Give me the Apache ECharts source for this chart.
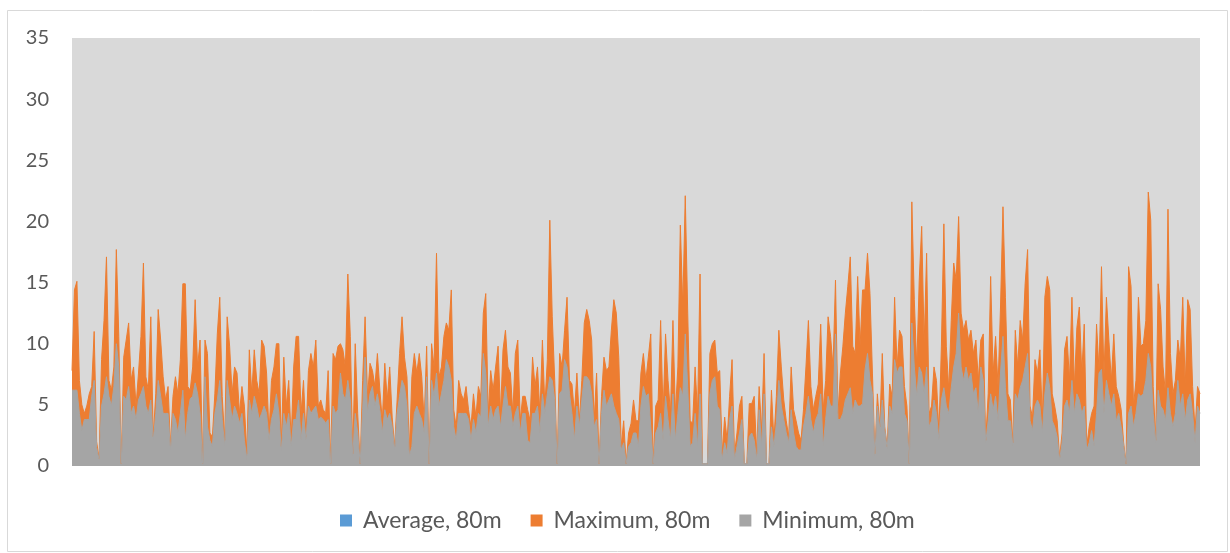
<!DOCTYPE html>
<html>
<head>
<meta charset="utf-8">
<script src="https://cdn.jsdelivr.net/npm/echarts@6/dist/echarts.min.js"></script>
<style>
  html, body { margin: 0; padding: 0; background: #ffffff; }
  #chart { width: 1230px; height: 553px; }
</style>
</head>
<body>
<div id="chart"></div>
<script>
// Wind speed at 80 m: per-interval maximum and minimum (m/s)
const seriesNames = ['Average, 80m', 'Maximum, 80m', 'Minimum, 80m'];
const yTicks = [0, 5, 10, 15, 20, 25, 30, 35];

const maxima = [
  7.8, 14.4, 15.1, 7.0, 5.0, 4.3, 4.9, 5.9, 6.5, 11.0, 2.0, 0.6, 8.7, 11.9, 17.1, 7.0, 6.2, 8.1, 17.7, 10.6, 0.2, 8.9, 10.3, 11.7, 7.0, 8.1, 4.9, 7.6, 10.6, 16.6, 7.3, 6.2, 12.2, 2.4, 5.9, 12.8, 10.3, 7.3, 5.4, 6.5, 1.6, 5.7, 7.3, 5.9, 8.7, 14.9,
  14.9, 6.5, 6.2, 8.1, 13.6, 8.1, 10.3, 0.2, 10.3, 9.2, 2.7, 2.4, 5.9, 10.8, 13.8, 5.7, 2.1, 12.2, 9.8, 5.9, 8.1, 7.6, 4.3, 6.5, 4.9, 1.0, 9.5, 5.9, 9.5, 7.0, 5.9, 10.3, 9.8, 7.6, 2.7, 7.0, 8.1, 10.0, 10.0, 1.6, 8.9, 4.9, 7.0, 2.1, 8.1, 10.6,
  10.6, 4.3, 7.0, 2.4, 7.8, 9.2, 8.1, 10.3, 4.9, 5.4, 4.6, 4.3, 7.8, 0.2, 9.2, 8.7, 9.8, 10.0, 9.5, 8.1, 15.7, 10.6, 1.0, 10.0, 4.3, 0.2, 7.0, 12.2, 5.7, 8.4, 7.8, 6.5, 9.2, 6.2, 3.7, 8.4, 5.4, 8.1, 4.0, 1.6, 5.4, 9.2, 12.2, 8.9, 7.3, 1.3,
  7.3, 9.2, 7.6, 9.2, 7.3, 3.7, 9.8, 0.2, 10.0, 8.1, 17.4, 7.3, 8.1, 10.6, 11.7, 11.1, 14.4, 4.6, 3.2, 7.0, 5.9, 5.4, 6.5, 4.6, 3.2, 5.9, 4.0, 6.5, 5.7, 12.5, 14.1, 4.3, 7.8, 6.2, 8.1, 9.8, 4.3, 9.5, 11.1, 8.1, 7.6, 4.3, 9.2, 10.3, 3.7, 5.7,
  5.7, 4.6, 3.7, 8.9, 6.5, 8.1, 4.3, 10.3, 4.9, 8.7, 20.1, 12.2, 7.0, 0.2, 9.2, 8.1, 11.1, 13.8, 7.0, 6.7, 4.3, 7.6, 3.7, 7.0, 11.7, 12.8, 11.9, 10.3, 3.7, 7.6, 0.2, 5.7, 8.9, 7.8, 8.1, 11.1, 13.6, 12.5, 8.9, 1.6, 3.7, 0.2, 2.7, 3.5, 5.4, 3.7,
  3.7, 7.6, 9.2, 7.0, 8.9, 10.8, 0.2, 4.9, 5.4, 11.9, 4.3, 10.8, 7.0, 4.3, 11.9, 4.3, 8.1, 19.7, 13.0, 22.1, 12.5, 3.7, 3.5, 8.1, 4.3, 15.7, 0.2, 0.2, 0.2, 9.2, 10.0, 10.3, 7.6, 7.8, 1.0, 4.0, 2.1, 5.7, 8.7, 1.0, 2.7, 4.9, 5.7, 0.2, 0.2, 5.1,
  5.1, 5.7, 1.0, 6.5, 2.9, 9.2, 0.2, 0.2, 6.2, 2.1, 5.7, 11.1, 8.1, 5.4, 3.7, 2.4, 8.1, 4.6, 3.7, 2.7, 2.1, 4.6, 8.1, 11.9, 6.5, 4.6, 5.7, 6.7, 11.6, 4.6, 7.0, 12.2, 10.6, 8.1, 15.2, 4.3, 7.6, 9.8, 12.5, 14.7, 17.1, 9.8, 9.2, 15.5, 9.8, 14.4,
  14.4, 17.4, 14.1, 7.6, 1.0, 5.9, 3.2, 9.2, 3.2, 1.6, 6.7, 5.7, 13.8, 8.1, 11.1, 10.6, 6.5, 4.9, 0.2, 21.6, 13.6, 8.1, 15.2, 19.6, 10.0, 17.4, 4.3, 4.9, 8.1, 7.0, 2.7, 9.8, 19.8, 9.8, 6.2, 11.9, 16.6, 15.2, 20.4, 12.5, 11.1, 11.9, 10.3, 11.1, 9.2, 10.3,
  7.0, 10.3, 10.8, 2.1, 5.9, 15.5, 7.6, 10.6, 6.5, 13.0, 21.2, 13.8, 5.9, 5.4, 1.9, 11.1, 8.1, 11.9, 10.3, 14.9, 17.7, 4.9, 4.0, 8.7, 7.6, 9.5, 3.7, 13.8, 15.5, 14.4, 5.9, 4.9, 3.7, 0.7, 2.7, 9.5, 10.6, 7.0, 13.8, 6.5, 11.3, 13.0, 7.6, 11.6, 1.6, 3.2,
  4.3, 4.9, 11.6, 7.8, 16.3, 7.3, 13.8, 10.3, 7.0, 10.8, 6.5, 5.7, 4.6, 1.9, 0.2, 16.3, 14.7, 4.9, 7.0, 13.8, 9.8, 10.0, 11.9, 22.4, 20.1, 6.5, 2.1, 14.9, 12.8, 8.1, 5.9, 21.0, 9.2, 5.9, 7.0, 10.3, 8.7, 13.8, 6.5, 13.6, 12.8, 6.5, 2.9, 6.5, 5.9
];

const minima = [
  6.2, 6.2, 6.2, 4.3, 2.9, 3.8, 3.8, 3.8, 5.7, 7.0, 1.5, 0.5, 4.9, 5.9, 7.3, 5.7, 4.9, 6.5, 10.0, 8.1, 0.2, 5.7, 5.4, 6.5, 4.3, 4.9, 3.8, 5.4, 5.9, 6.5, 4.9, 4.3, 5.4, 2.1, 4.3, 7.0, 5.7, 4.3, 4.3, 4.3, 1.3, 4.3, 3.8, 2.7, 4.3, 6.2,
  2.1, 4.3, 5.5, 5.7, 6.8, 5.9, 4.3, 0.2, 7.3, 3.2, 2.1, 1.6, 4.3, 5.4, 7.0, 3.8, 1.6, 7.0, 5.4, 3.8, 4.9, 4.3, 3.5, 4.3, 2.1, 0.5, 5.4, 4.3, 5.7, 4.9, 3.8, 4.3, 4.9, 4.3, 2.1, 3.8, 4.6, 5.9, 4.3, 1.2, 4.3, 3.2, 4.3, 1.6, 3.8, 3.8,
  5.4, 2.1, 4.3, 2.1, 4.9, 4.3, 4.6, 4.9, 3.8, 4.0, 3.8, 3.5, 3.8, 0.2, 4.9, 4.3, 4.6, 7.6, 5.9, 5.4, 7.0, 5.4, 0.8, 4.3, 2.7, 0.2, 4.6, 8.9, 4.3, 5.9, 6.5, 4.9, 5.9, 4.6, 2.7, 4.6, 3.8, 4.3, 3.2, 1.3, 4.3, 5.7, 7.0, 6.5, 4.9, 0.8,
  1.6, 4.3, 4.9, 4.3, 3.8, 2.7, 7.3, 0.2, 7.0, 5.7, 7.6, 4.9, 5.9, 7.0, 8.7, 8.1, 7.0, 3.2, 2.1, 4.3, 4.3, 4.3, 4.3, 3.8, 2.1, 3.8, 2.7, 4.3, 4.0, 9.2, 7.6, 3.2, 4.9, 3.8, 4.6, 4.9, 3.2, 4.9, 6.5, 4.9, 4.9, 3.2, 4.3, 4.9, 2.7, 4.3,
  4.3, 2.1, 1.9, 4.3, 4.3, 4.9, 2.7, 5.9, 4.3, 5.9, 7.3, 7.0, 5.4, 0.2, 5.9, 6.2, 8.7, 8.1, 5.9, 4.3, 2.1, 4.9, 3.2, 5.4, 7.3, 7.3, 7.0, 5.9, 3.2, 3.8, 0.2, 4.3, 6.2, 4.9, 5.4, 5.9, 4.9, 4.3, 3.8, 1.3, 1.9, 0.2, 1.6, 1.9, 2.7, 2.7,
  1.6, 4.9, 6.5, 5.7, 5.9, 3.2, 0.2, 2.7, 3.2, 4.3, 2.1, 5.7, 3.8, 2.1, 5.9, 2.1, 4.3, 6.4, 5.7, 10.8, 6.4, 1.6, 1.9, 4.3, 1.6, 5.9, 0.2, 0.2, 0.2, 5.9, 7.0, 7.3, 4.9, 4.6, 0.5, 1.9, 1.0, 3.8, 4.9, 0.5, 1.6, 2.7, 3.8, 0.2, 0.2, 2.4,
  2.7, 2.1, 0.5, 4.6, 1.6, 5.9, 0.2, 0.2, 3.2, 1.6, 3.5, 7.0, 4.9, 3.8, 2.7, 1.9, 4.6, 2.7, 1.6, 1.3, 1.3, 3.2, 4.3, 5.7, 3.8, 2.7, 3.8, 4.3, 5.9, 1.6, 3.8, 5.7, 4.9, 4.9, 10.8, 3.8, 3.8, 4.3, 5.4, 5.9, 6.4, 4.3, 5.4, 4.9, 4.9, 5.1,
  7.9, 9.2, 7.0, 5.9, 0.8, 4.9, 3.0, 5.4, 3.0, 1.4, 4.9, 4.3, 8.7, 7.6, 8.1, 8.1, 4.3, 3.7, 0.2, 11.7, 8.1, 5.7, 8.1, 7.6, 5.9, 8.1, 3.2, 3.7, 5.4, 4.3, 2.1, 5.4, 6.4, 4.9, 4.3, 6.4, 8.1, 9.2, 12.5, 8.1, 7.0, 8.1, 7.0, 7.6, 5.9, 6.4,
  4.3, 8.1, 7.0, 1.9, 3.7, 5.9, 4.6, 5.7, 3.7, 7.6, 10.6, 6.4, 3.7, 3.7, 1.6, 5.9, 5.4, 6.4, 7.0, 8.1, 9.2, 3.7, 2.9, 4.9, 5.4, 4.9, 2.7, 5.9, 7.6, 6.4, 3.7, 3.2, 2.4, 0.5, 1.9, 4.9, 5.4, 4.3, 7.0, 4.3, 5.9, 5.4, 4.3, 4.9, 1.3, 1.9,
  2.9, 1.6, 4.3, 7.6, 7.9, 4.3, 7.0, 5.9, 4.9, 5.9, 3.7, 4.3, 3.2, 1.6, 0.2, 4.3, 4.9, 3.2, 4.3, 5.9, 5.7, 5.9, 7.0, 9.2, 8.1, 4.3, 1.9, 6.2, 4.9, 4.6, 3.7, 6.4, 4.3, 3.2, 4.3, 7.0, 4.9, 5.9, 3.7, 5.4, 5.9, 4.3, 1.9, 4.9, 4.3
];

// The average trace sits beneath the maximum area and only shows in the legend
const averages = [];

const categories = maxima.map((_, i) => String(i + 1));

const colors = { average: '#5B9BD5', maximum: '#ED7D31', minimum: '#A5A5A5' };
const textColor = '#595959';
const fontFamily = 'Lato, "Open Sans", sans-serif';

function areaSeries(name, data, color) {
  return {
    name: name,
    type: 'line',
    data: data,
    symbol: 'none',
    showSymbol: false,
    silent: true,
    smooth: false,
    itemStyle: { color: color },
    lineStyle: { color: color, width: 1 },
    areaStyle: { color: color, opacity: 1 }
  };
}

const chart = echarts.init(document.getElementById('chart'), null, { renderer: 'canvas' });
chart.setOption({
  animation: false,
  backgroundColor: '#ffffff',
  graphic: [{
    type: 'rect',
    silent: true,
    shape: { x: 7.5, y: 10.5, width: 1220, height: 541 },
    style: { fill: 'none', stroke: '#D9D9D9', lineWidth: 1 }
  }],
  grid: {
    left: 72, right: 30, top: 38, bottom: 87,
    show: true,
    backgroundColor: '#D9D9D9',
    borderWidth: 0
  },
  legend: {
    data: seriesNames,
    left: 335,
    top: 504,
    icon: 'rect',
    itemWidth: 12,
    itemHeight: 12,
    itemGap: 29,
    textStyle: { color: textColor, fontSize: 23, fontFamily: fontFamily, padding: [0, 0, 0, 6] }
  },
  xAxis: {
    type: 'category',
    data: categories,
    boundaryGap: false,
    axisLine: { show: false },
    axisTick: { show: false },
    axisLabel: { show: false },
    splitLine: { show: false }
  },
  yAxis: {
    type: 'value',
    min: yTicks[0],
    max: yTicks[yTicks.length - 1],
    interval: yTicks[1] - yTicks[0],
    axisLine: { show: false },
    axisTick: { show: false },
    splitLine: { show: false },
    axisLabel: { color: textColor, fontSize: 20, fontFamily: fontFamily, margin: 23 }
  },
  series: [
    areaSeries(seriesNames[0], averages, colors.average),
    areaSeries(seriesNames[1], maxima, colors.maximum),
    areaSeries(seriesNames[2], minima, colors.minimum)
  ]
});
</script>
</body>
</html>
